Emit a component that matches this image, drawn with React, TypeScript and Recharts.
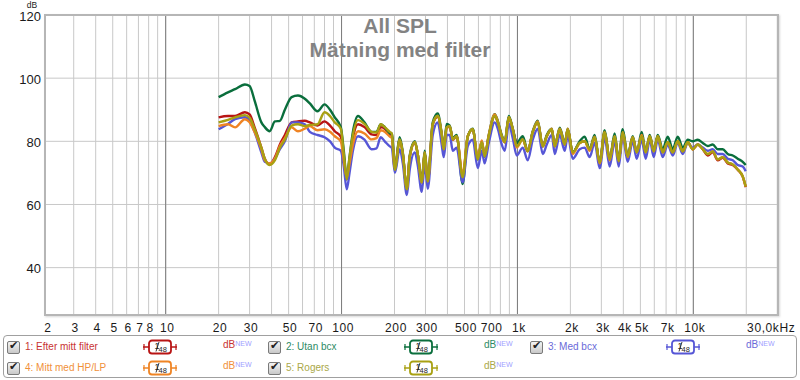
import React from "react";
import { LineChart, Line, XAxis, YAxis, CartesianGrid, ReferenceLine } from "recharts";

// Frequency points (Hz)
const FREQ = [20, 22.6, 24.8, 28.2, 30, 32, 35, 36.6, 39, 41.8, 44.6, 47.6, 52, 56.5, 61.8, 66, 73, 80, 86, 91.5,
  99, 103, 107, 111, 116, 124, 135, 148, 158, 167, 176, 188, 193, 201, 214, 223, 235, 244, 261, 271,
  286, 297, 309, 330, 352, 371, 381, 396, 412, 429, 451, 488, 522, 557, 595, 627, 651, 687, 743, 773,
  814, 847, 893, 941, 991, 1072, 1144, 1222, 1304, 1393, 1468, 1567, 1630, 1740, 1858, 1932, 2062, 2259, 2411, 2574,
  2748, 2935, 3133, 3345, 3571, 3764, 3967, 4235, 4522, 4766, 5088, 5362, 5651, 5956, 6276, 6701, 7154, 7638, 8155, 8706,
  9295, 9924, 10595, 11312, 12077, 12894, 13766, 14697, 15691, 16753, 17886, 19096, 19850];

// 1: Efter mitt filter
const S1 = [87.6, 88, 88, 89.2, 88.5, 84.5, 78, 74.5, 72.7, 75, 79, 82, 86, 86.3, 86.5, 86, 85, 86.3, 85, 83.2,
  81.5, 75, 68, 74, 81, 85.4, 84.5, 82.2, 82, 84.5, 84, 82.2, 82, 71, 80.6, 76, 65, 75, 79.5, 76,
  67, 76.5, 67, 85.4, 87.8, 82, 77.5, 84.4, 84.6, 80.5, 81.6, 68.6, 81.6, 83.8, 74.3, 79.7, 75.2, 81.6, 88, 86,
  81.6, 79.7, 87.6, 83.8, 79.5, 80.6, 76.8, 82.9, 86, 78.4, 81.6, 83.8, 78.4, 83.8, 79, 83.8, 76.5, 79.5, 80, 77.5,
  81.3, 73.3, 82.9, 74.3, 81.6, 73.7, 82.9, 75.2, 81.3, 76.5, 81.6, 76.5, 81.6, 76.8, 81.6, 76.5, 79.7, 76.5, 80, 76.8,
  79.7, 77.5, 79, 77.5, 75.5, 76.5, 74, 74.8, 73, 72.5, 71, 68.8, 65.5];

// 2: Utan bcx
const S2 = [94, 95.5, 96.5, 98, 97.5, 93, 86, 84.5, 83.2, 86.3, 86.5, 90, 94, 94.5, 93.5, 92, 89.5, 91.7, 90, 87.6,
  84.5, 77, 68, 75, 83, 88, 86, 83, 83, 85.4, 84.5, 82.5, 82.5, 72, 81.3, 76.5, 64.5, 75.5, 80, 76,
  67.5, 77, 67.5, 86, 88.8, 82.5, 78, 85.5, 85, 81, 82, 66.5, 81.6, 84, 74.3, 80, 75.2, 82, 88.6, 86.5,
  82, 80, 88, 84, 79.5, 81.6, 77, 83.2, 86.5, 78.4, 82, 84, 78.4, 84.3, 79.5, 84, 76.5, 80, 81.5, 77.5,
  82, 73.3, 83.5, 74.3, 82.5, 74, 83.8, 75.5, 81.6, 76.5, 83, 76.8, 82, 77, 82, 77.5, 81.5, 77.5, 81.5, 78,
  80.5, 80, 80.5, 79.5, 78.5, 79, 77.5, 77.5, 76, 75.5, 74.5, 73.5, 72.5];

// 3: Med bcx
const S3 = [83.8, 85.5, 87, 87.6, 86.5, 83, 76.5, 73.5, 73, 74.5, 77.5, 80, 86, 86, 85.4, 83, 82, 81.3, 80, 78,
  77, 72, 64.8, 70, 77, 81.6, 80.5, 77.5, 77.8, 81.3, 80, 78.4, 78, 70, 77.5, 73, 63, 71, 76.5, 72.5,
  64, 73, 65, 82, 86, 79, 75, 82, 82, 77, 78, 67, 78.5, 80.5, 71.5, 77, 73, 79.5, 86, 84,
  79, 77, 85.5, 81, 75.5, 78, 74, 80.5, 84, 76, 79, 82, 76, 82, 77, 82, 74.5, 77.5, 78, 75,
  79.5, 71.5, 81, 72, 80, 72, 81.5, 73.5, 80, 74.5, 80.5, 74.5, 80.5, 75, 80.5, 75, 79, 75.5, 79.5, 76,
  79.5, 78, 79, 78, 77, 77.5, 76, 76, 74.5, 74, 72.5, 72, 70.5];

// 4: Mitt med HP/LP
const S4 = [84.8, 85.4, 84.4, 87, 86, 83, 77.5, 74, 73, 74.5, 78.5, 81, 84.4, 83.2, 84, 84.8, 83.5, 83.8, 83, 81.6,
  80, 74, 68.6, 73, 79, 83.2, 82.5, 80.6, 81, 83.5, 83, 81.5, 81, 71.5, 80.5, 76, 65, 75, 79.7, 76,
  67, 76.5, 67.3, 85.4, 88, 82.2, 77.5, 84.4, 84.8, 80.6, 81.6, 69.5, 81.6, 83.8, 75, 80.3, 75.5, 82, 88.5, 86.3,
  81.6, 79.7, 87.6, 83.8, 78, 80.6, 77, 83, 86.3, 78.4, 81.6, 84, 78.4, 84, 79, 84, 76, 79.5, 80, 77,
  81.5, 73, 83, 74, 81.6, 73.7, 82.9, 75, 81.3, 76.5, 82, 76.5, 81.6, 76.8, 81.6, 76.5, 79.7, 76.5, 80, 76.8,
  79.7, 77.5, 79, 77.5, 76, 76.8, 74.3, 75, 73.3, 72.7, 71.1, 68.9, 65.7];

// 5: Rogers
const S5 = [86, 86.8, 87.6, 88.3, 87.5, 84, 78, 74.5, 72.5, 74, 78, 80.5, 85, 85.4, 84.8, 85.2, 85.4, 89.2, 88, 86,
  84, 76, 68, 75, 82, 86.7, 85.5, 83, 82.8, 85.4, 84.5, 83, 82.5, 71, 80.6, 76, 64.8, 75, 79.7, 76,
  67, 76.5, 67.3, 85.4, 88, 82.2, 77.5, 84.4, 84.8, 80.6, 81.6, 68.6, 81.6, 83.8, 74.3, 79.7, 75.2, 81.6, 88, 86,
  81.6, 79.7, 87.6, 83.8, 78.4, 80.6, 76.8, 82.9, 86, 78.4, 81.6, 83.8, 78.4, 83.8, 79, 83.8, 76.5, 79.5, 80, 77.5,
  81.3, 73.3, 82.9, 74.3, 81.6, 73.7, 82.9, 75.2, 81.3, 76.5, 81.6, 76.5, 81.6, 76.8, 81.6, 76.5, 79.7, 76.5, 80, 76.8,
  79.7, 77.5, 79, 77.5, 75.9, 76.8, 74.3, 75, 73.3, 72.7, 71.1, 68.9, 65.7];

const SERIES_NAMES = ["1: Efter mitt filter", "2: Utan bcx", "3: Med bcx", "4: Mitt med HP/LP", "5: Rogers"];
const SERIES_KEYS = ["s1", "s2", "s3", "s4", "s5"];
const SERIES_VALUES = [S1, S2, S3, S4, S5];
const LINE_COLORS = ["#b81414", "#0a6e3c", "#5656d6", "#ef8424", "#a8a012"];
const TEXT_COLORS = ["#c83232", "#2e8a64", "#6a6ad8", "#f0903a", "#aaa848"];

const X_TICKS = [2.06, 3, 4, 5, 6, 7, 8, 9, 10, 20, 30, 40, 50, 60, 70, 80, 90, 100, 200, 300, 400, 500, 600, 700, 800, 900,
  1000, 2000, 3000, 4000, 5000, 6000, 7000, 8000, 9000, 10000, 20000, 30000];
const X_TICK_LABELS = ["2", "3", "4", "5", "6", "7", "8", "", "10", "20", "30", "", "50", "", "70", "", "", "100", "200", "300", "", "500", "", "700", "", "",
  "1k", "2k", "3k", "4k", "5k", "", "7k", "", "", "10k", "", "30,0kHz"];
const DECADES = [10, 100, 1000, 10000];
const Y_TICKS = [40, 60, 80, 100, 120];
const TITLE = ["All SPL", "Mätning med filter"];

const data = FREQ.map((f, i) => {
  const row: Record<string, number> = { f };
  SERIES_KEYS.forEach((k, j) => { row[k] = SERIES_VALUES[j][i]; });
  return row;
});

const FONT = "'Liberation Sans', Arial, sans-serif";

const XTick = (props: any) => {
  const { x, payload } = props;
  const idx = X_TICKS.indexOf(payload.value);
  const lbl = idx >= 0 ? X_TICK_LABELS[idx] : "";
  if (!lbl) return null;
  const dx = payload.value === 30000 ? -6 : payload.value === 2.06 ? 3 : 1.5;
  return (
    <text x={x + dx} y={332} textAnchor="middle" fontSize={12} fill="#1a1a1a" fontFamily={FONT} letterSpacing={0.6}>
      {lbl}
    </text>
  );
};

const YTick = (props: any) => {
  const { y, payload } = props;
  return (
    <text x={41} y={y + 5.5} textAnchor="end" fontSize={13} fill="#1a1a1a" fontFamily={FONT}>
      {payload.value}
    </text>
  );
};

const CheckBox = () => (
  <div style={{
    width: 11, height: 11, border: "1px solid #7a7a7a", borderRadius: 2,
    background: "linear-gradient(#f4f4f4,#c8c8c8)", position: "relative",
  }}>
    <span style={{ position: "absolute", left: 1, top: -3, fontSize: 11, color: "#222", fontFamily: "'DejaVu Sans'" }}>✔</span>
  </div>
);

const SmoothIcon = ({ color }: { color: string }) => (
  <svg width={34} height={16}>
    <line x1={0} y1={8} x2={34} y2={8} stroke={color} strokeWidth={1.5} />
    <line x1={1} y1={5} x2={1} y2={11} stroke={color} strokeWidth={1.2} />
    <line x1={33} y1={5} x2={33} y2={11} stroke={color} strokeWidth={1.2} />
    <rect x={6} y={1.5} width={22} height={13} rx={3} fill="#fff" stroke={color} strokeWidth={1.8} />
    <text x={11.5} y={10} fontSize={9} fill="#222" fontFamily={FONT}>1</text>
    <line x1={13} y1={12.5} x2={16} y2={3} stroke="#222" strokeWidth={0.9} />
    <text x={15.5} y={12.5} fontSize={7.5} fill="#222" fontFamily={FONT}>48</text>
  </svg>
);

const LEGEND_LAYOUT = [
  { col: 7, row: 347 }, { col: 268, row: 347 }, { col: 530, row: 347 },
  { col: 7, row: 368 }, { col: 268, row: 368 },
];

export default function App() {
  return (
    <div style={{ position: "absolute", left: 0, top: 0, width: 800, height: 380, background: "#fff", fontFamily: FONT }}>
      <LineChart width={800} height={335} data={data} margin={{ top: 15, right: 22, left: 0, bottom: 0 }}>
        <CartesianGrid stroke="#c8c8c8" strokeWidth={1} />
        <XAxis
          dataKey="f"
          type="number"
          scale="log"
          domain={[2.06, 30300]}
          ticks={X_TICKS}
          tick={<XTick />}
          tickLine={false}
          axisLine={false}
          height={20}
          interval={0}
          allowDataOverflow
        />
        <YAxis
          type="number"
          domain={[25, 120]}
          ticks={Y_TICKS}
          tick={<YTick />}
          tickLine={false}
          axisLine={false}
          width={45}
          interval={0}
        />
        {DECADES.map((d) => (
          <ReferenceLine key={d} x={d} stroke="#7c7c7c" strokeWidth={1} />
        ))}
        {SERIES_KEYS.map((k, j) => (
          <Line
            key={k}
            dataKey={k}
            stroke={LINE_COLORS[j]}
            strokeWidth={2.4}
            dot={false}
            type="monotone"
            isAnimationActive={false}
          />
        ))}
      </LineChart>

      {/* plot frame */}
      <div style={{
        position: "absolute", left: 44, top: 14, width: 735, height: 302, boxSizing: "border-box",
        border: "2px solid #b6b6b6", boxShadow: "1px 1px 2px #d8d8d8", pointerEvents: "none",
      }} />

      {/* titles and unit */}
      <svg width={800} height={70} style={{ position: "absolute", left: 0, top: 0, pointerEvents: "none" }}>
        <text x={400} y={33} textAnchor="middle" fontSize={21} fontWeight="bold" fill="#838383" fontFamily={FONT}>{TITLE[0]}</text>
        <text x={400} y={57} textAnchor="middle" fontSize={21} fontWeight="bold" fill="#838383" fontFamily={FONT}>{TITLE[1]}</text>
        <text x={32} y={7.8} textAnchor="middle" fontSize={8.5} fill="#1a1a1a" fontFamily={FONT}>dB</text>
      </svg>

      {/* legend */}
      <div style={{
        position: "absolute", left: 3, top: 335, width: 794, height: 43, boxSizing: "border-box",
        border: "1px solid #a0a0a0", borderRadius: 4,
      }} />
      {SERIES_NAMES.map((name, j) => {
        const { col, row } = LEGEND_LAYOUT[j];
        return (
          <React.Fragment key={name}>
            <div style={{ position: "absolute", left: col, top: row - 6 }}><CheckBox /></div>
            <div style={{ position: "absolute", left: col + 18, top: row - 7, fontSize: 10, color: TEXT_COLORS[j], whiteSpace: "nowrap", lineHeight: "13px" }}>{name}</div>
            <div style={{ position: "absolute", left: col + 136, top: row - 8, height: 16 }}><SmoothIcon color={LINE_COLORS[j]} /></div>
            <div style={{ position: "absolute", left: col + 216, top: row - 9, fontSize: 10, color: TEXT_COLORS[j], whiteSpace: "nowrap", lineHeight: "13px" }}>
              dB<span style={{ fontSize: 7, color: "#a0a0ff", verticalAlign: "top", position: "relative", top: -1 }}>NEW</span>
            </div>
          </React.Fragment>
        );
      })}
    </div>
  );
}
